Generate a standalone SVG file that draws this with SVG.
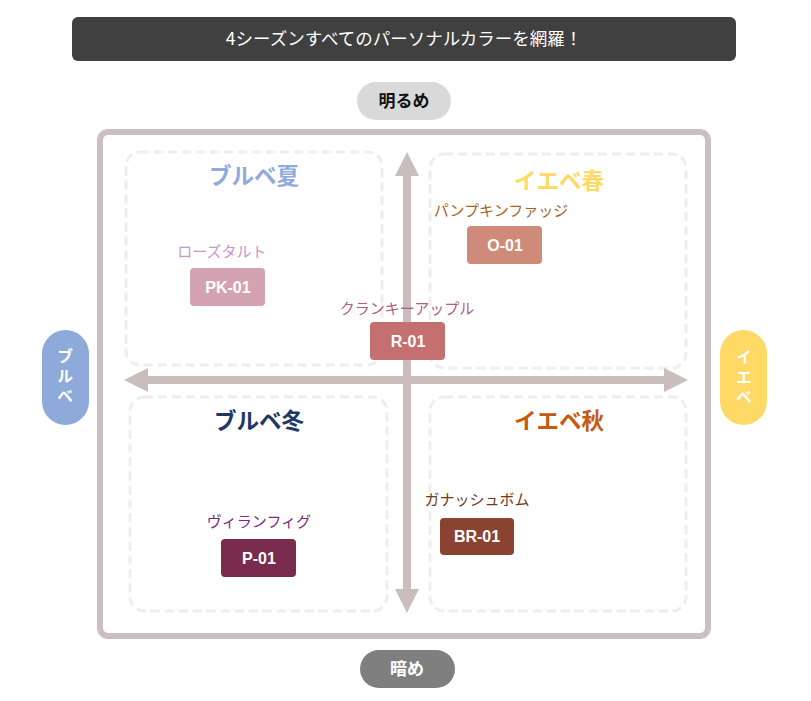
<svg xmlns="http://www.w3.org/2000/svg" width="811" height="701" viewBox="0 0 811 701">
<style>
.jp{font-family:"Noto Sans CJK JP","Noto Sans",sans-serif}
.lat{font-family:"Liberation Sans","Noto Sans",sans-serif;font-weight:bold;font-size:16px;fill:#fff}
.quad{fill:none;stroke:#eeeeee;stroke-width:3;stroke-dasharray:9 5}
.qt{font-weight:bold;font-size:22.5px}
.lbl{font-size:15px}
.side{font-weight:bold;font-size:16px;fill:#fff;writing-mode:vertical-rl;letter-spacing:4px}
</style>
<defs>
<marker id="ah" viewBox="0 0 10 10" refX="0" refY="5" markerWidth="3" markerHeight="3" orient="auto-start-reverse">
<path d="M0,0 L10,5 L0,10 Z" fill="#c9bdbd"/>
</marker>
</defs>
<rect width="811" height="701" fill="#fff"/>
<g id="title">
<rect x="72" y="17" width="664" height="44" rx="6" fill="#404040"/>
<text x="404" y="45" text-anchor="middle" class="jp" font-size="17.5" fill="#fff">4シーズンすべてのパーソナルカラーを網羅！</text>
</g>
<g id="bright">
<rect x="357" y="82" width="94" height="38" rx="19" fill="#d9d9d9"/>
<text x="404" y="107" text-anchor="middle" class="jp" font-size="17" font-weight="bold" fill="#111">明るめ</text>
</g>
<g id="dark">
<rect x="360" y="650" width="95" height="38" rx="19" fill="#7f7f7f"/>
<text x="407" y="675" text-anchor="middle" class="jp" font-size="17" font-weight="bold" fill="#fff">暗め</text>
</g>
<rect x="100" y="132" width="608" height="504" rx="8" fill="none" stroke="#cbbfbf" stroke-width="6"/>
<g id="q-summer">
<rect x="126" y="152" width="256" height="213" rx="14" class="quad"/>
<text x="254" y="184" text-anchor="middle" class="jp qt" fill="#8faadc">ブルベ夏</text>
</g>
<g id="q-spring">
<rect x="430" y="154" width="256" height="214" rx="14" class="quad"/>
<text x="559" y="189" text-anchor="middle" class="jp qt" fill="#ffd966">イエベ春</text>
</g>
<g id="q-winter">
<rect x="130" y="397" width="257" height="214" rx="14" class="quad"/>
<text x="259" y="429" text-anchor="middle" class="jp qt" fill="#203864">ブルベ冬</text>
</g>
<g id="q-autumn">
<rect x="430" y="397" width="256" height="214" rx="14" class="quad"/>
<text x="559" y="429" text-anchor="middle" class="jp qt" fill="#c55a11">イエベ秋</text>
</g>
<g id="connectors">
<line x1="407" y1="176" x2="407" y2="589" stroke="#c9bdbd" stroke-width="8" marker-start="url(#ah)" marker-end="url(#ah)"/>
<line x1="148" y1="380" x2="664" y2="380" stroke="#c9bdbd" stroke-width="8" marker-start="url(#ah)" marker-end="url(#ah)"/>
</g>
<g id="bluebase">
<rect x="42" y="330" width="47" height="95" rx="23.5" fill="#8eaadb"/>
<text x="65" y="348" class="jp side">ブルベ</text>
</g>
<g id="yellowbase">
<rect x="720" y="330" width="47" height="95" rx="23.5" fill="#ffd966"/>
<text x="744" y="349" class="jp side">イエベ</text>
</g>
<g id="pk01">
<text x="222" y="257" text-anchor="middle" class="jp lbl" fill="#c897cf">ローズタルト</text>
<rect x="190" y="268" width="75" height="38" rx="4" fill="#d4a3b1"/>
<text x="228" y="293" text-anchor="middle" class="lat">PK-01</text>
</g>
<g id="o01">
<text x="501" y="216" text-anchor="middle" class="jp lbl" fill="#a8652a">パンプキンファッジ</text>
<rect x="467" y="226" width="75" height="38" rx="4" fill="#cf8a7a"/>
<text x="505" y="251" text-anchor="middle" class="lat">O-01</text>
</g>
<g id="r01">
<text x="407" y="314" text-anchor="middle" class="jp lbl" fill="#b0607a">クランキーアップル</text>
<rect x="370" y="322" width="75" height="38" rx="4" fill="#c57070"/>
<text x="408" y="347" text-anchor="middle" class="lat">R-01</text>
</g>
<g id="p01">
<text x="259" y="527" text-anchor="middle" class="jp lbl" fill="#7a2a7e">ヴィランフィグ</text>
<rect x="221" y="539" width="75" height="38" rx="4" fill="#7a2c4e"/>
<text x="259" y="564" text-anchor="middle" class="lat">P-01</text>
</g>
<g id="br01">
<text x="477" y="505" text-anchor="middle" class="jp lbl" fill="#6e3b1f">ガナッシュボム</text>
<rect x="440" y="518" width="74" height="37" rx="4" fill="#8a4231"/>
<text x="477" y="542" text-anchor="middle" class="lat">BR-01</text>
</g>
</svg>
